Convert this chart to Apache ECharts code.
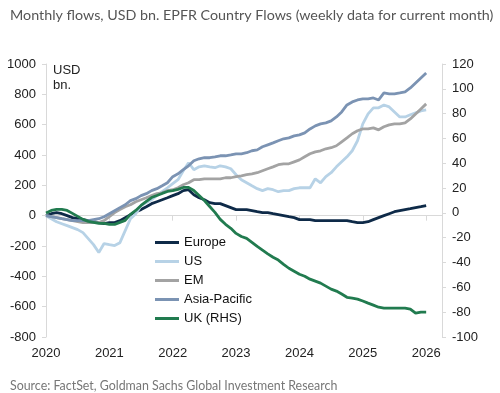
<!DOCTYPE html>
<html>
<head>
<meta charset="utf-8">
<script src="https://cdn.jsdelivr.net/npm/echarts@6/dist/echarts.min.js"></script>
<style>html,body{margin:0;padding:0;background:#fff;}#c{width:500px;height:393px;}</style>
</head>
<body>
<div id="c"></div>
<script>
const titleText = 'Monthly flows, USD bn. EPFR Country Flows (weekly data for current month)';
const sourceText = 'Source: FactSet, Goldman Sachs Global Investment Research';
const unitText = 'USD\nbn.';
const seriesNames = ['Europe', 'US', 'EM', 'Asia-Pacific', 'UK (RHS)'];
const startYear = 2020;
const yearTicks = [2020, 2021, 2022, 2023, 2024, 2025, 2026];

// Monthly cumulative flows, USD bn, Jan 2020 .. Jan 2026 (left axis)
const europe = [0,13,20,13,0,-13,-20,-26,-33,-40,-46,-53,-46,-46,-33,-13,7,26,40,59,79,92,105,118,132,145,165,171,138,118,105,86,79,79,66,53,40,40,40,33,26,20,20,13,7,0,-7,-13,-26,-26,-26,-33,-33,-33,-33,-33,-33,-33,-40,-46,-46,-40,-26,-13,0,13,26,33,40,46,53,59,66];
const us = [0,-20,-40,-53,-66,-79,-92,-112,-151,-191,-243,-184,-191,-197,-178,-99,-20,13,66,86,105,132,158,184,211,237,296,349,303,322,329,322,316,329,322,309,270,237,217,197,178,165,178,171,158,165,165,178,184,184,184,243,217,257,283,322,355,388,428,494,605,671,711,711,730,717,684,651,651,665,678,691,697];
const em = [0,-7,-13,-20,-26,-33,-40,-46,-46,-46,-46,-33,-7,20,40,59,72,92,105,118,132,145,151,165,171,184,204,217,237,237,243,243,243,243,250,250,257,263,270,276,283,296,309,322,336,342,342,355,368,388,408,421,428,441,448,461,487,513,540,560,572,572,579,566,586,599,605,605,612,638,671,704,737];
const asiaPac = [0,-7,-13,-20,-26,-33,-33,-33,-33,-26,-20,-7,13,33,53,72,99,112,132,145,165,178,197,217,257,276,303,329,362,375,382,382,388,395,395,401,408,408,415,428,434,454,467,480,494,507,513,526,533,546,572,592,605,612,625,651,684,730,750,763,770,770,776,763,809,803,803,809,816,842,875,908,941];
// UK, right-hand axis
const ukRhs = [0,2,2.8,2.8,2,-0.4,-2.8,-5.2,-6.8,-7.6,-8.4,-8.4,-9.2,-9.2,-7.6,-6,-1.2,2,6,9.2,12.4,14,15.7,17.3,18,19,20.5,20.5,18,14,10,5.2,0.4,-5.2,-9.2,-12.4,-16.5,-19,-20.5,-23.7,-27,-30,-33,-35.7,-38,-41.4,-44.6,-47,-49.4,-51,-53.4,-55,-56.6,-59,-61.4,-63,-65.4,-68,-68.7,-69.5,-71,-72.7,-74.3,-76,-76.7,-76.7,-76.7,-76.7,-76.7,-77.5,-80.8,-80,-80];

const months = europe.map((_, i) => startYear + i / 12);
const pair = arr => arr.map((v, i) => [months[i], v]);

const colors = ['#0e2a48', '#b7d2e6', '#a3a3a3', '#7b93b3', '#217b4f'];
const dataSets = [europe, us, em, asiaPac, ukRhs];

const axisLineColor = '#d9d9d9';
const labelFont = { fontFamily: 'Liberation Sans, Arial, sans-serif', fontSize: 13, color: '#222' };

const chart = echarts.init(document.getElementById('c'), null, { renderer: 'canvas' });
chart.setOption({
  animation: false,
  backgroundColor: '#fff',
  title: [
    { text: titleText, left: 5, top: 3, textStyle: { fontFamily: 'Lato, sans-serif', fontWeight: 'normal', fontSize: 14.3, color: '#555' } },
    { text: sourceText, left: 5, top: 375, textStyle: { fontFamily: 'Lato, sans-serif', fontWeight: 'normal', fontSize: 12.4, color: '#777' } }
  ],
  graphic: [
    { type: 'text', left: 53, top: 63, style: { text: unitText, font: '13px "Liberation Sans", Arial, sans-serif', fill: '#222', lineHeight: 15 } }
  ],
  grid: { left: 46, right: 58, top: 64, bottom: 56, containLabel: false },
  legend: {
    orient: 'vertical', left: 150, top: 230, itemWidth: 24, itemHeight: 3, itemGap: 4,
    icon: 'rect', selectedMode: false,
    textStyle: Object.assign({}, labelFont, { color: '#111', lineHeight: 15 }),
    data: seriesNames
  },
  xAxis: [
    {
      type: 'value', min: startYear, max: 2026.25, interval: 1, position: 'bottom',
      axisLine: { show: false, onZero: false }, axisTick: { show: false }, splitLine: { show: false },
      axisLabel: Object.assign({}, labelFont, { margin: 10, showMaxLabel: false,
        formatter: v => yearTicks.indexOf(v) >= 0 ? String(v) : '' })
    },
    {
      type: 'value', min: startYear, max: 2026.25, interval: 1, position: 'bottom',
      axisLine: { show: true, onZero: true, onZeroAxisIndex: 0, lineStyle: { color: axisLineColor, width: 1 } },
      axisTick: { show: true, length: 5, lineStyle: { color: axisLineColor } },
      axisLabel: { show: false }, splitLine: { show: false }
    }
  ],
  yAxis: [
    {
      type: 'value', min: -800, max: 1000, interval: 200, position: 'left',
      axisLine: { show: true, onZero: false, lineStyle: { color: axisLineColor } },
      axisTick: { show: true, length: 4, lineStyle: { color: axisLineColor } },
      splitLine: { show: false },
      axisLabel: Object.assign({}, labelFont, { margin: 10, formatter: v => String(v) })
    },
    {
      type: 'value', min: -100, max: 120, interval: 20, position: 'right',
      axisLine: { show: true, onZero: false, lineStyle: { color: axisLineColor } },
      axisTick: { show: true, length: 4, lineStyle: { color: axisLineColor } },
      splitLine: { show: false },
      axisLabel: Object.assign({}, labelFont, { margin: 10, formatter: v => String(v) })
    }
  ],
  series: seriesNames.map((name, k) => ({
    name: name, type: 'line', xAxisIndex: 0, yAxisIndex: k === 4 ? 1 : 0,
    data: pair(dataSets[k]), showSymbol: false, symbol: 'none',
    lineStyle: { color: colors[k], width: 2.8 }, itemStyle: { color: colors[k] },
    z: 2 + k
  }))
});
</script>
</body>
</html>
